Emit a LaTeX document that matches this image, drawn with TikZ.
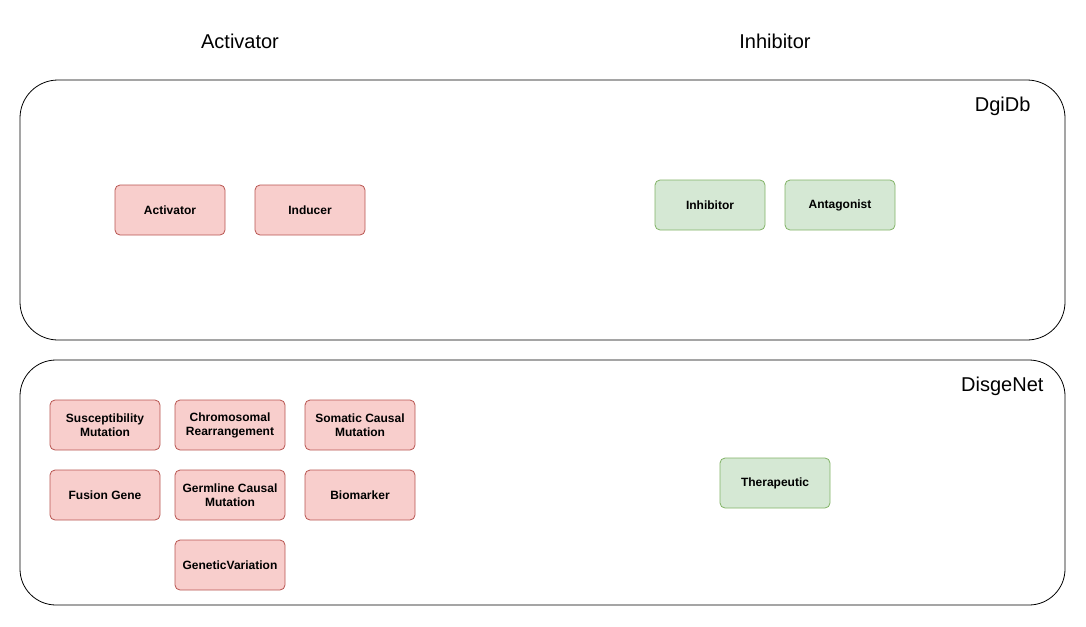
\documentclass[tikz,border=0pt]{standalone}
\usepackage{fontspec}
\setmainfont{Liberation Sans}
\definecolor{redfill}{HTML}{F8CECC}
\definecolor{redline}{HTML}{B85450}
\definecolor{greenfill}{HTML}{D5E8D4}
\definecolor{greenline}{HTML}{82B366}
\tikzset{
  term/.style={rounded corners=5pt, line width=0.8pt, minimum width=110pt, minimum height=50pt,
    align=center, inner sep=2pt, font=\fontsize{12}{14}\selectfont\bfseries},
  actterm/.style={term, draw=redline, fill=redfill},
  inhterm/.style={term, draw=greenline, fill=greenfill},
  header/.style={font=\fontsize{20}{24}\selectfont}
}
\begin{document}
\begin{tikzpicture}[x=1pt, y=-1pt]
                \useasboundingbox (0,0) rectangle (1086,626);

                % Draw the column headers
                \node[header] (hact) at (240,41) {Activator};
                \node[header] (hinh) at (775,41) {Inhibitor};

                % Draw the source panels
                \draw[line width=0.8pt, rounded corners=38pt] (20,80) rectangle (1065,340);
                \draw[line width=0.8pt, rounded corners=36pt] (20,360) rectangle (1065,605);
                \node[header, anchor=east] (dgidb) at (1034,106) {DgiDb};
                \node[header, anchor=east] (disgenet) at (1047,386) {DisgeNet};

                % DgiDb terms
                \node[actterm] (activator) at (170,210) {Activator};
                \node[actterm] (inducer) at (310,210) {Inducer};
                \node[inhterm] (inhibitor) at (710,205) {Inhibitor};
                \node[inhterm] (antagonist) at (840,205) {Antagonist};

                % DisgeNet terms
                \node[actterm] (suscept) at (105,425) {Susceptibility\\Mutation};
                \node[actterm] (chromo) at (230,425) {Chromosomal\\Rearrangement};
                \node[actterm] (somatic) at (360,425) {Somatic Causal\\Mutation};
                \node[actterm] (fusion) at (105,495) {Fusion Gene};
                \node[actterm] (germline) at (230,495) {Germline Causal\\Mutation};
                \node[actterm] (biomarker) at (360,495) {Biomarker};
                \node[actterm] (genvar) at (230,565) {GeneticVariation};
                \node[inhterm] (therapeutic) at (775,483) {Therapeutic};

            \end{tikzpicture}
\end{document}
